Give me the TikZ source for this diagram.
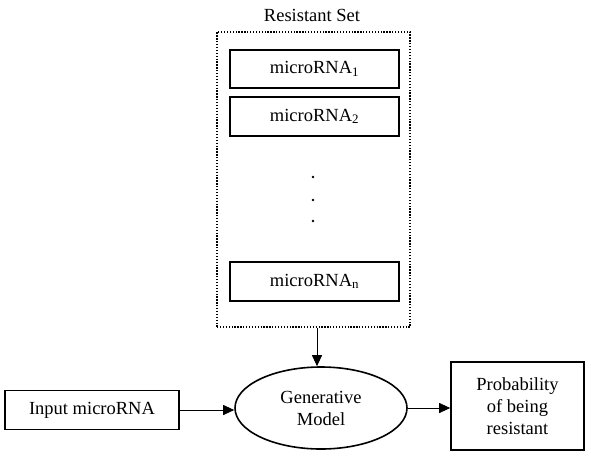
\documentclass[tikz,border=0pt]{standalone}
\usepackage{fontspec}
\setmainfont{Liberation Serif}
\usetikzlibrary{arrows.meta,shapes.geometric}
\begin{document}
\begin{tikzpicture}[x=1pt,y=-1pt,
  every node/.style={font=\fontsize{18.5}{22}\selectfont, inner sep=0pt},
  boxnode/.style={draw, line width=1.6pt, rectangle, align=center},
  setbox/.style={draw, line width=1.5pt, dash pattern=on 1.3pt off 1.6pt, rectangle},
  arr/.style={line width=0.9pt, -{Triangle[length=11pt,width=10pt]}},
  dotmark/.style={circle, fill, minimum size=2.8pt, inner sep=0pt}]
\useasboundingbox (0,0) rectangle (591,471);
\node (title) at (312,15) {Resistant Set};
\node[setbox, minimum width=193pt, minimum height=295pt] (set) at (313.5,179.5) {};
\node[boxnode, minimum width=169pt, minimum height=38pt] (m1) at (314.5,69) {microRNA\textsubscript{1}};
\node[boxnode, minimum width=169pt, minimum height=39pt] (m2) at (314.5,116.5) {microRNA\textsubscript{2}};
\node[dotmark] (d1) at (313,177) {};
\node[dotmark] (d2) at (313,200) {};
\node[dotmark] (d3) at (313,221) {};
\node[boxnode, minimum width=169pt, minimum height=39pt] (mn) at (314.5,281.5) {microRNA\textsubscript{n}};
\node[draw, ellipse, line width=1.6pt, minimum width=172pt, minimum height=82pt, align=center] (gen) at (321,408) {Generative\\Model};
\node[boxnode, minimum width=174pt, minimum height=39pt] (input) at (92,410) {Input microRNA};
\node[boxnode, minimum width=133pt, minimum height=88pt] (prob) at (517.5,406) {Probability\\of being\\resistant};
\draw[arr] (set.south -| 317,0) -- (317,0 |- gen.north);
\draw[arr] (input.east) -- (input.east -| gen.west);
\draw[arr] (gen.east) -- (gen.east -| prob.west);
\end{tikzpicture}
\end{document}
